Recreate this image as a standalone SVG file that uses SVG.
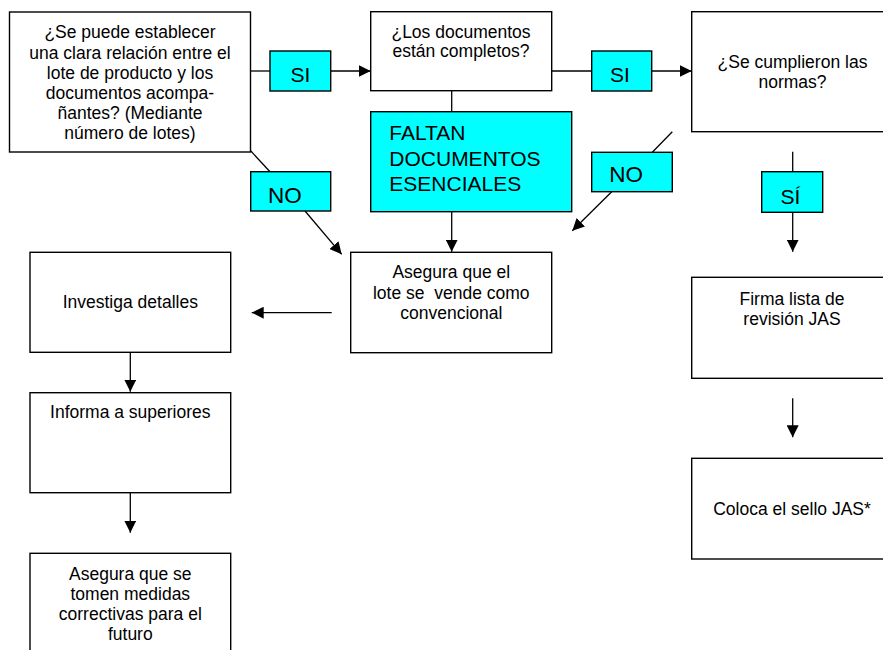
<svg xmlns="http://www.w3.org/2000/svg" width="883" height="650" viewBox="0 0 883 650">
<style>
  .box { fill: #ffffff; stroke: #000000; stroke-width: 1.4; }
  .lbl { fill: #00ffff; stroke: #000000; stroke-width: 1.4; }
  .t { font-family: "Liberation Sans", Arial, sans-serif; font-size: 17.5px; fill: #000000; text-anchor: middle; }
  .big { font-family: "Liberation Sans", Arial, sans-serif; font-size: 21px; fill: #000000; }
  .c { fill: none; stroke: #000000; stroke-width: 1.3; }
</style>
<defs>
  <marker id="ah" markerUnits="userSpaceOnUse" markerWidth="12" markerHeight="12" refX="12" refY="6" orient="auto">
    <path d="M0,0 L12,6 L0,12 z" fill="#000000"/>
  </marker>
</defs>
<rect x="0" y="0" width="883" height="650" fill="#ffffff"/>

<g id="connectors">
  <line class="c" x1="250.5" y1="71" x2="270" y2="71"/>
  <line class="c" x1="330.7" y1="71" x2="370.7" y2="71" marker-end="url(#ah)"/>
  <line class="c" x1="551.7" y1="71" x2="591.7" y2="71"/>
  <line class="c" x1="651.7" y1="71" x2="691.7" y2="71" marker-end="url(#ah)"/>
  <line class="c" x1="451.7" y1="90.7" x2="451.7" y2="111.7"/>
  <line class="c" x1="451.7" y1="211.7" x2="451.7" y2="251.7" marker-end="url(#ah)"/>
  <line class="c" x1="248.3" y1="148.3" x2="270" y2="171.7"/>
  <line class="c" x1="305" y1="211" x2="341.7" y2="254.3" marker-end="url(#ah)"/>
  <line class="c" x1="672.3" y1="131.7" x2="652.3" y2="152.3"/>
  <line class="c" x1="611.7" y1="191.7" x2="572.3" y2="230.7" marker-end="url(#ah)"/>
  <line class="c" x1="792.7" y1="151.7" x2="792.7" y2="171.7"/>
  <line class="c" x1="792.7" y1="212.3" x2="792.7" y2="251.7" marker-end="url(#ah)"/>
  <line class="c" x1="792.7" y1="398.3" x2="792.7" y2="437.3" marker-end="url(#ah)"/>
  <line class="c" x1="331.7" y1="312.7" x2="251.7" y2="312.7" marker-end="url(#ah)"/>
  <line class="c" x1="130.3" y1="352.3" x2="130.3" y2="391.7" marker-end="url(#ah)"/>
  <line class="c" x1="130.3" y1="492.7" x2="130.3" y2="532.7" marker-end="url(#ah)"/>
</g>

<g id="relacion">
  <rect class="box" x="9.5" y="12" width="241" height="140"/>
  <text class="t" x="130" y="38.3">¿Se puede establecer</text>
  <text class="t" x="130" y="58.5">una clara relación entre el</text>
  <text class="t" x="130" y="78.7">lote de producto y los</text>
  <text class="t" x="130" y="98.9">documentos acompa-</text>
  <text class="t" x="130" y="119.1">ñantes? (Mediante</text>
  <text class="t" x="130" y="139.3">número de lotes)</text>
</g>

<g id="completos">
  <rect class="box" x="370.7" y="11.7" width="181" height="79"/>
  <text class="t" x="461" y="37.5">¿Los documentos</text>
  <text class="t" x="461" y="57">están completos?</text>
</g>

<g id="normas">
  <rect class="box" x="691.7" y="11.7" width="201" height="120"/>
  <text class="t" x="792.5" y="68.3">¿Se cumplieron las</text>
  <text class="t" x="792.5" y="88.3">normas?</text>
</g>

<g id="faltan">
  <rect class="lbl" x="370.7" y="111.7" width="201" height="100"/>
  <text class="big" x="389.3" y="140">FALTAN</text>
  <text class="big" x="389.3" y="165.7">DOCUMENTOS</text>
  <text class="big" x="389.3" y="191">ESENCIALES</text>
</g>

<g id="si1">
  <rect class="lbl" x="270" y="51" width="60.7" height="40"/>
  <text class="big" x="300.3" y="81.7" text-anchor="middle">SI</text>
</g>
<g id="si2">
  <rect class="lbl" x="591.7" y="51" width="60" height="40"/>
  <text class="big" x="620" y="81.7" text-anchor="middle">SI</text>
</g>
<g id="no1">
  <rect class="lbl" x="250.7" y="171.7" width="80" height="39.3"/>
  <text class="big" x="268" y="202.7" style="font-size:22.5px">NO</text>
</g>
<g id="no2">
  <rect class="lbl" x="591.7" y="152.3" width="80.6" height="39.4"/>
  <text class="big" x="609.3" y="182.3" style="font-size:22.5px">NO</text>
</g>
<g id="si3">
  <rect class="lbl" x="761.7" y="171.7" width="61" height="40.6"/>
  <text class="big" x="790.5" y="204" text-anchor="middle">SÍ</text>
</g>

<g id="convencional">
  <rect class="box" x="350.7" y="252.3" width="201" height="100.4"/>
  <text class="t" x="451.3" y="278.3">Asegura que el</text>
  <text class="t" x="451.3" y="299" xml:space="preserve" style="white-space:pre">lote se  vende como</text>
  <text class="t" x="451.3" y="319.3">convencional</text>
</g>

<g id="investiga">
  <rect class="box" x="30" y="252.3" width="200.7" height="100"/>
  <text class="t" x="130.3" y="308.3">Investiga detalles</text>
</g>

<g id="informa">
  <rect class="box" x="30" y="392.7" width="200.7" height="100"/>
  <text class="t" x="130.3" y="417.7">Informa a superiores</text>
</g>

<g id="medidas">
  <rect class="box" x="30" y="553.3" width="200.7" height="110"/>
  <text class="t" x="130.3" y="579.5">Asegura que se</text>
  <text class="t" x="130.3" y="599.7">tomen medidas</text>
  <text class="t" x="130.3" y="619.9">correctivas para el</text>
  <text class="t" x="130.3" y="640.1">futuro</text>
</g>

<g id="firma">
  <rect class="box" x="691.7" y="277.3" width="201" height="101"/>
  <text class="t" x="792" y="305">Firma lista de</text>
  <text class="t" x="792" y="324.6">revisión JAS</text>
</g>

<g id="sello">
  <rect class="box" x="691.7" y="458.3" width="201" height="100.7"/>
  <text class="t" x="792" y="515">Coloca el sello JAS*</text>
</g>
</svg>
